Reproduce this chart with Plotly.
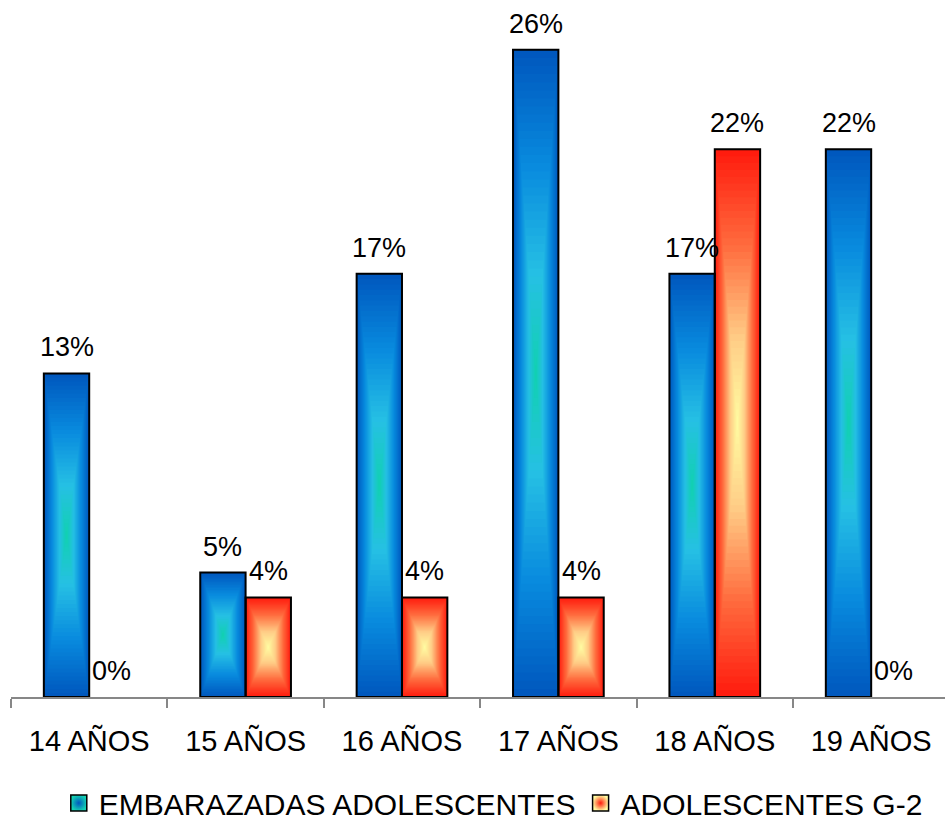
import plotly.graph_objects as go

# ---- data ----
categories = ["14 AÑOS", "15 AÑOS", "16 AÑOS", "17 AÑOS", "18 AÑOS", "19 AÑOS"]
embarazadas = [13, 5, 17, 26, 17, 22]
adolescentes_g2 = [0, 4, 4, 4, 22, 0]
series_names = ["EMBARAZADAS ADOLESCENTES", "ADOLESCENTES G-2"]

# ---- style ----
FONT = "Liberation Sans, Arial, Helvetica, sans-serif"
BARGAP = 0.42
BAR_W = (1 - BARGAP) / 2
LEVELS = 40  # concentric steps of the "from centre" fill

BLUE_STOPS = [(0.0, (0, 88, 190)), (0.35, (8, 138, 222)),
              (0.7, (38, 192, 228)), (1.0, (18, 208, 178))]
ORANGE_STOPS = [(0.0, (255, 28, 14)), (0.35, (255, 108, 62)),
                (0.7, (255, 205, 135)), (1.0, (255, 250, 160))]
AXIS_GREY = "#878787"


def stop_color(stops, t):
    for (t0, c0), (t1, c1) in zip(stops[:-1], stops[1:]):
        if t <= t1:
            f = 0 if t1 == t0 else (t - t0) / (t1 - t0)
            rgb = [round(a + (b - a) * f) for a, b in zip(c0, c1)]
            return "rgb({},{},{})".format(*rgb)
    return "rgb({},{},{})".format(*stops[-1][1])


def rect_paths(values, offset, scale):
    """Closed rectangle outlines for every non-zero bar, shrunk about its centre."""
    xs, ys = [], []
    for i, v in enumerate(values):
        if v <= 0:
            continue
        xc = i + offset + BAR_W / 2
        yc = v / 2
        hw = BAR_W / 2 * scale
        hh = v / 2 * scale
        xs += [xc - hw, xc + hw, xc + hw, xc - hw, xc - hw, None]
        ys += [yc - hh, yc - hh, yc + hh, yc + hh, yc - hh, None]
    return xs, ys


fig = go.Figure()
x_idx = list(range(len(categories)))
series = [(embarazadas, BLUE_STOPS, -BAR_W), (adolescentes_g2, ORANGE_STOPS, 0.0)]

for (vals, stops, offset), name in zip(series, series_names):
    # base bars (positions come from the bar trace itself)
    fig.add_trace(go.Bar(
        x=x_idx, y=vals, width=BAR_W, offset=offset, name=name,
        marker=dict(color=stop_color(stops, 0), line=dict(width=0)),
        showlegend=False, hoverinfo="skip",
    ))
    # path gradient: nested rectangles from edge colour to centre colour
    for k in range(1, LEVELS):
        scale = 1 - k / LEVELS
        xs, ys = rect_paths(vals, offset, scale)
        fig.add_trace(go.Scatter(
            x=xs, y=ys, mode="lines", fill="toself",
            fillcolor=stop_color(stops, k / (LEVELS - 1)),
            line=dict(width=0), hoverinfo="skip", showlegend=False,
        ))

# crisp outlines above the gradient fills
for vals, stops, offset in series:
    xs, ys = rect_paths(vals, offset, 1.0)
    fig.add_trace(go.Scatter(
        x=xs, y=ys, mode="lines", line=dict(color="black", width=2),
        hoverinfo="skip", showlegend=False,
    ))

# legend keys
for (vals, stops, offset), name in zip(series, series_names):
    fig.add_trace(go.Scatter(
        x=[None], y=[None], mode="markers", name=name,
        marker=dict(symbol="square", size=16, color=stop_color(stops, 1),
                    gradient=dict(type="radial", color=stop_color(stops, 0)),
                    line=dict(color="black", width=1.5)),
    ))

# value labels above each bar
for vals, stops, offset in series:
    for i, v in enumerate(vals):
        fig.add_annotation(
            x=i + offset + BAR_W / 2, y=v, text=f"{v}%", showarrow=False,
            xanchor="center", yanchor="bottom", yshift=9,
            font=dict(family=FONT, size=27, color="black"),
        )

fig.update_layout(
    width=945, height=829,
    margin=dict(l=11, r=0, t=0, b=132, autoexpand=False),
    paper_bgcolor="white", plot_bgcolor="white",
    barmode="overlay",
    font=dict(family=FONT, color="black"),
    showlegend=True,
    legend=dict(orientation="h", xref="container", yref="container",
                x=0.522, xanchor="center", y=0.0, yanchor="bottom",
                font=dict(family=FONT, size=30, color="black"),
                bgcolor="rgba(0,0,0,0)"),
    xaxis=dict(
        range=[-0.5, 5.472], tickmode="array", tickvals=x_idx, ticktext=categories,
        ticks="", showgrid=False, zeroline=False,
        showline=True, linecolor=AXIS_GREY, linewidth=1.5,
        tickfont=dict(family=FONT, size=29, color="black"),
        ticklabelstandoff=17,
        minor=dict(tickmode="array", tickvals=[i - 0.5 for i in range(len(categories) + 1)],
                   ticks="outside", ticklen=9, tickwidth=1.5, tickcolor=AXIS_GREY,
                   showgrid=False),
    ),
    yaxis=dict(range=[0, 28], visible=False, fixedrange=True),
)

fig.write_html("out.html")
